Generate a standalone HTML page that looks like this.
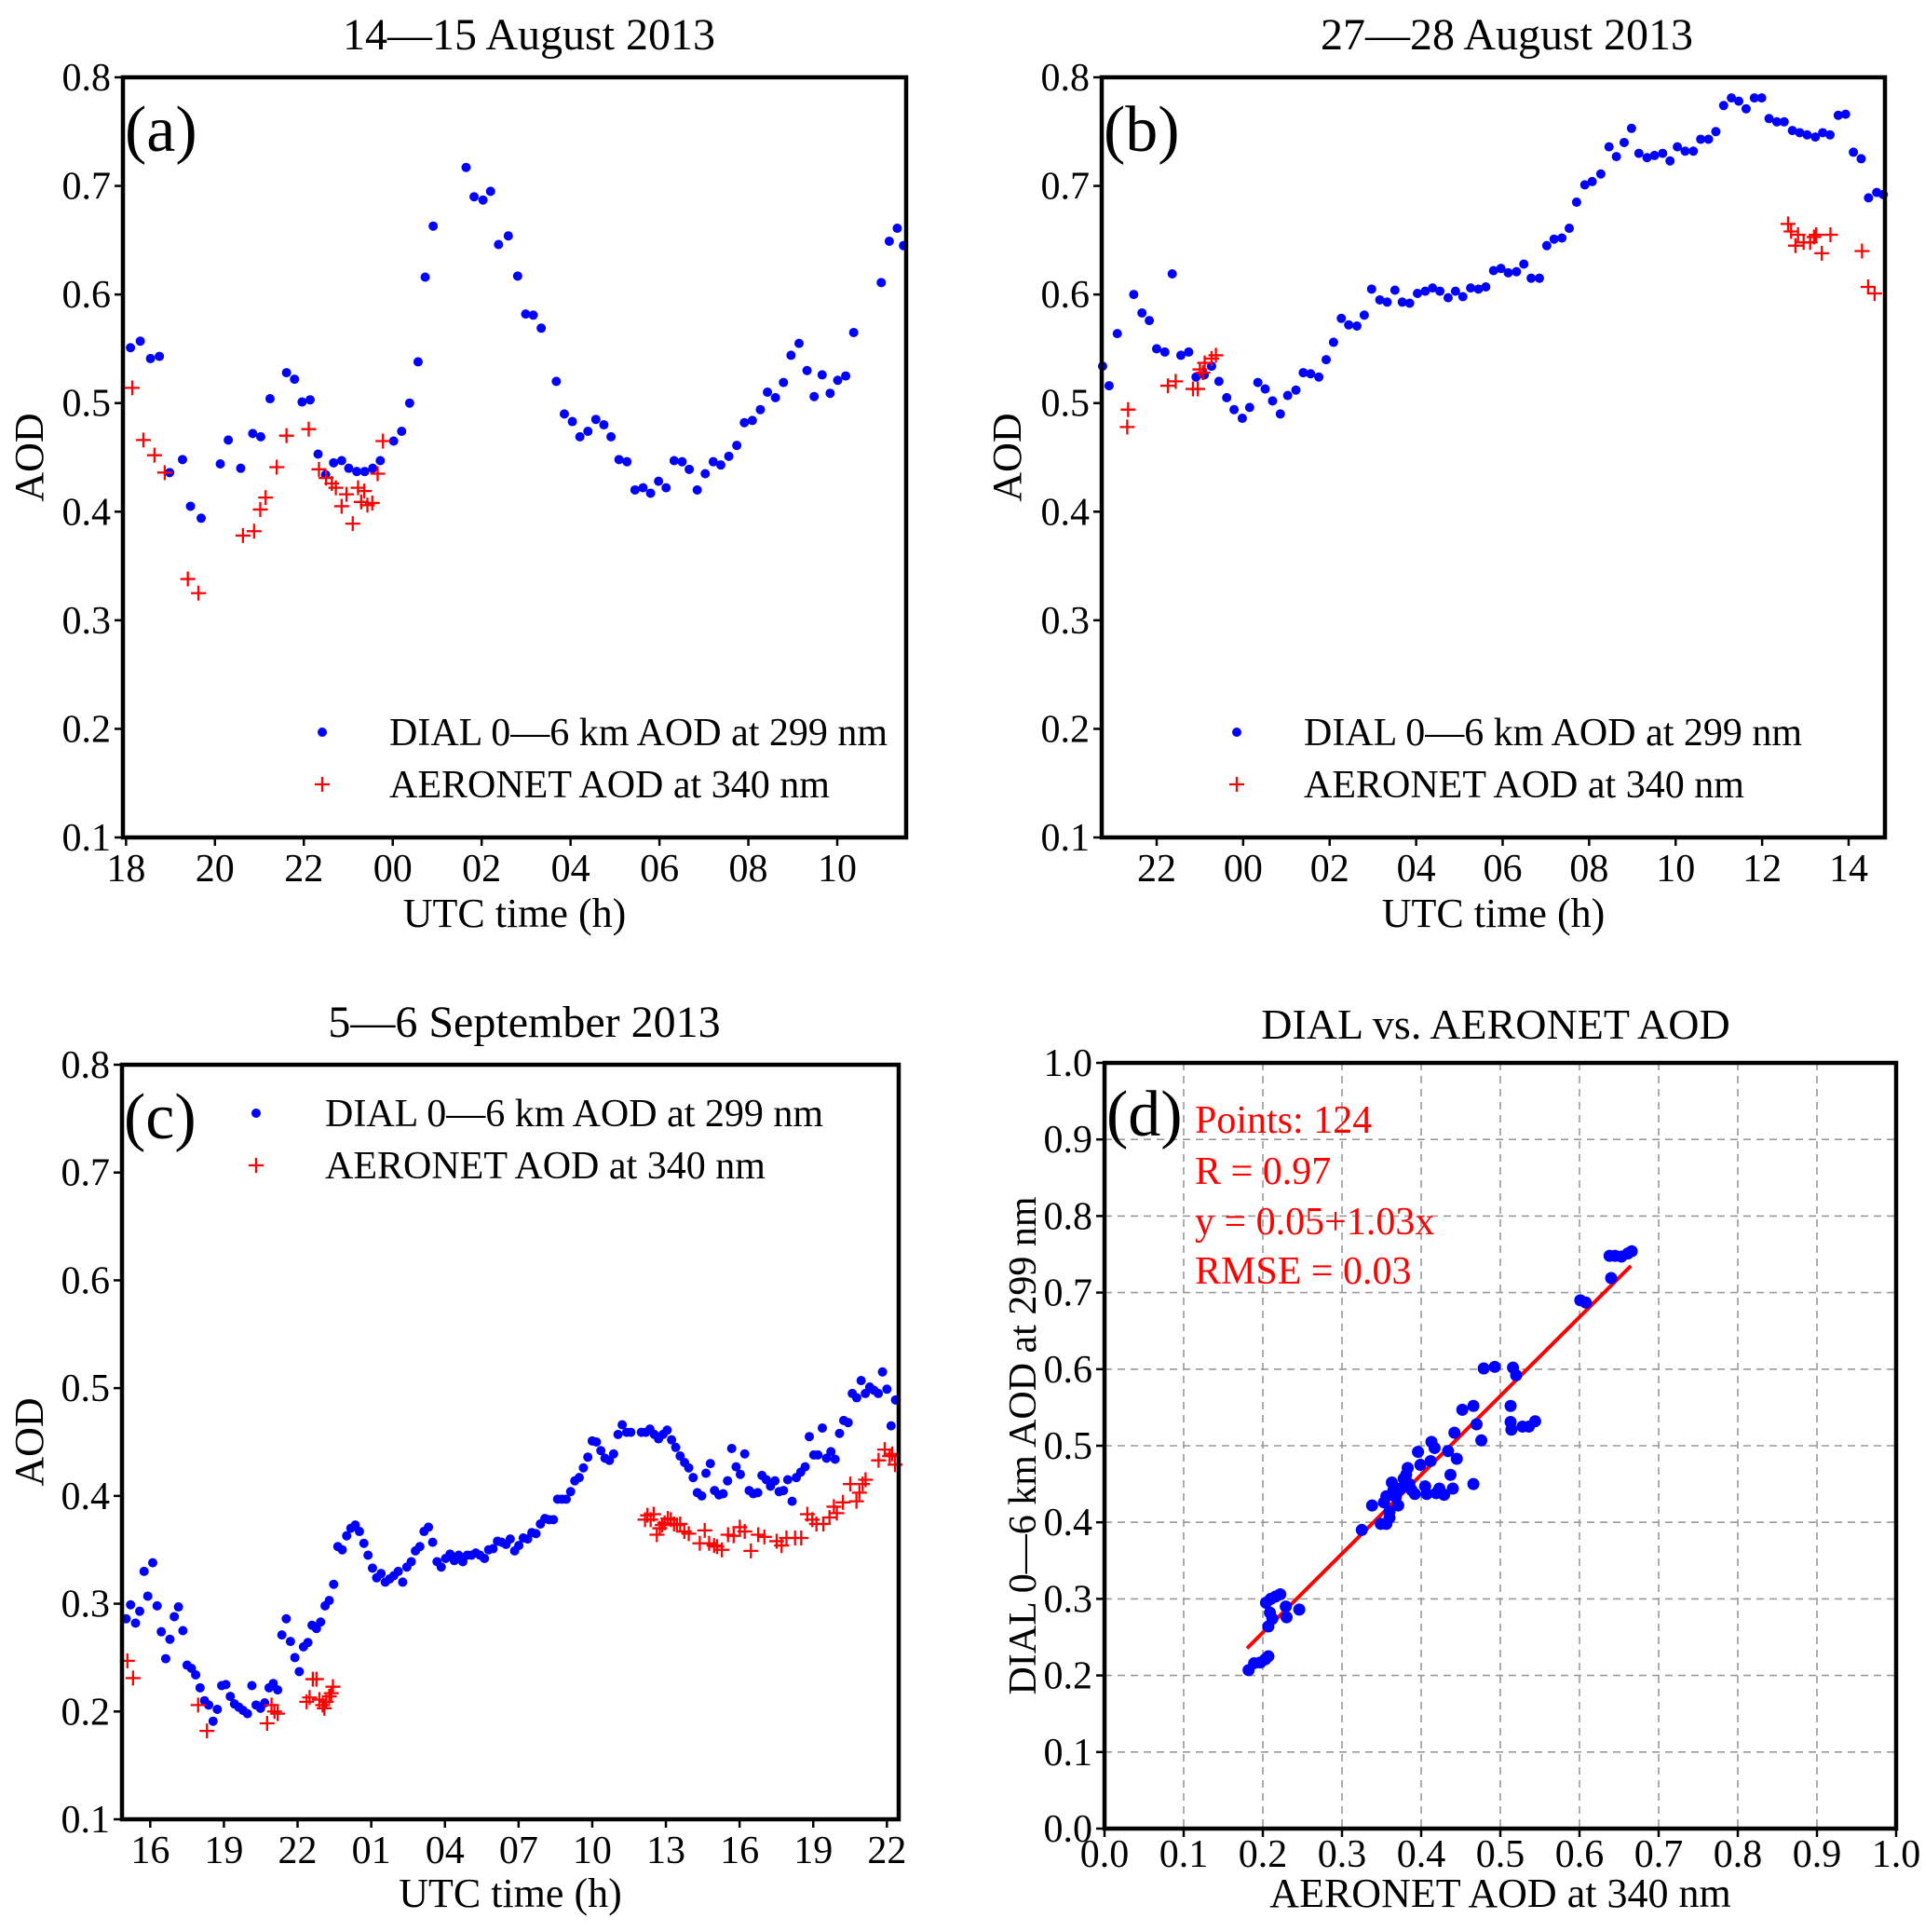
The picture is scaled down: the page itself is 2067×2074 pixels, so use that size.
<!DOCTYPE html>
<html><head><meta charset="utf-8"><style>
html,body{margin:0;padding:0;background:#fff;}
svg{display:block;font-family:"Liberation Serif",serif;}
</style></head><body>
<svg id="fig" width="2067" height="2074" viewBox="0 0 2067 2074" xmlns="http://www.w3.org/2000/svg"></svg>
<script>
// ---- Panel (a) data ----
const aDialH=[18.10,18.32,18.55,18.75,18.98,19.27,19.45,19.69,20.12,20.30,20.58,20.85,21.03,21.24,21.61,21.79,21.96,22.14,22.32,22.49,22.67,22.85,23.01,23.19,23.37,23.55,23.72,24.02,24.20,24.38,24.57,24.73,24.91,25.65,25.83,26.03,26.20,26.38,26.60,26.81,26.99,27.16,27.34,27.68,27.86,28.04,28.21,28.39,28.57,28.75,28.91,29.09,29.27,29.45,29.63,29.80,29.98,30.15,30.33,30.51,30.67,30.85,31.03,31.21,31.38,31.56,31.74,31.91,32.09,32.27,32.43,32.61,32.79,32.96,33.14,33.32,33.48,33.66,33.84,34.01,34.19,34.37,34.99,35.17,35.35,35.49];
const aDialV=[0.551,0.557,0.541,0.543,0.436,0.448,0.405,0.394,0.444,0.466,0.440,0.472,0.469,0.504,0.528,0.522,0.501,0.503,0.453,0.434,0.445,0.447,0.440,0.437,0.437,0.440,0.447,0.465,0.474,0.500,0.538,0.616,0.663,0.717,0.690,0.687,0.695,0.646,0.654,0.617,0.582,0.581,0.569,0.520,0.490,0.483,0.469,0.474,0.485,0.480,0.469,0.448,0.446,0.420,0.422,0.417,0.428,0.422,0.447,0.446,0.439,0.420,0.435,0.446,0.443,0.451,0.461,0.482,0.484,0.494,0.510,0.505,0.519,0.544,0.555,0.530,0.506,0.526,0.509,0.521,0.525,0.565,0.611,0.649,0.661,0.645];
const aAerH=[18.14,18.39,18.64,18.87,19.39,19.63,20.63,20.88,21.02,21.14,21.39,21.61,22.11,22.34,22.50,22.63,22.72,22.85,22.96,23.10,23.22,23.29,23.36,23.43,23.54,23.66,23.78];
const aAerV=[0.514,0.466,0.452,0.436,0.338,0.325,0.378,0.382,0.402,0.413,0.441,0.470,0.476,0.439,0.431,0.426,0.422,0.405,0.416,0.389,0.422,0.409,0.419,0.406,0.408,0.435,0.465];
const aTicks=[18,20,22,24,26,28,30,32,34];
const aTickLabels=["18","20","22","00","02","04","06","08","10"];
// ---- Panel (b) data ----
const bDialH=[20.75,20.90,21.09,21.47,21.66,21.83,22.00,22.19,22.36,22.56,22.74,22.91,23.10,23.27,23.44,23.62,23.79,23.98,24.15,24.34,24.51,24.68,24.86,25.03,25.22,25.39,25.56,25.75,25.92,26.09,26.27,26.44,26.63,26.80,26.97,27.16,27.33,27.51,27.68,27.85,28.03,28.21,28.38,28.55,28.74,28.91,29.08,29.26,29.44,29.61,29.79,29.96,30.13,30.32,30.49,30.66,30.85,31.02,31.19,31.37,31.54,31.71,31.90,32.07,32.27,32.46,32.63,32.81,32.98,33.15,33.34,33.51,33.70,33.87,34.04,34.22,34.41,34.58,34.76,34.93,35.11,35.29,35.46,35.63,35.82,35.99,36.16,36.34,36.51,36.70,36.87,37.04,37.23,37.40,37.57,37.76,37.93,38.11,38.29,38.46,38.65,38.80];
const bDialV=[0.534,0.516,0.564,0.600,0.583,0.576,0.550,0.547,0.619,0.544,0.547,0.524,0.526,0.534,0.520,0.505,0.494,0.486,0.496,0.519,0.513,0.502,0.490,0.507,0.512,0.528,0.527,0.524,0.540,0.556,0.578,0.572,0.571,0.581,0.605,0.595,0.593,0.604,0.593,0.592,0.601,0.603,0.606,0.603,0.597,0.603,0.598,0.606,0.605,0.607,0.622,0.624,0.620,0.621,0.628,0.615,0.615,0.645,0.651,0.652,0.661,0.685,0.701,0.704,0.711,0.736,0.727,0.740,0.753,0.730,0.726,0.728,0.730,0.723,0.736,0.732,0.732,0.743,0.743,0.750,0.774,0.781,0.778,0.771,0.781,0.781,0.762,0.759,0.759,0.751,0.749,0.747,0.745,0.749,0.747,0.765,0.766,0.731,0.725,0.689,0.694,0.692];
const bAerH=[21.32,21.34,22.26,22.44,22.84,22.95,23.00,23.07,23.11,23.27,23.37,36.60,36.67,36.77,36.83,36.96,37.11,37.20,37.25,37.38,37.58,38.31,38.45,38.60];
const bAerV=[0.478,0.494,0.516,0.520,0.513,0.513,0.531,0.528,0.537,0.541,0.544,0.665,0.658,0.645,0.655,0.648,0.648,0.653,0.655,0.638,0.655,0.640,0.607,0.601];
const bTicks=[22,24,26,28,30,32,34,36,38];
const bTickLabels=["22","00","02","04","06","08","10","12","14"];
// ---- Panel (c) data ----
const cDialH=[15.02,15.20,15.40,15.57,15.75,15.90,16.10,16.28,16.45,16.63,16.80,16.98,17.15,17.33,17.50,17.68,17.85,18.03,18.21,18.38,18.56,18.73,18.91,19.08,19.26,19.43,19.61,19.78,19.96,20.14,20.31,20.49,20.66,20.84,21.01,21.19,21.36,21.54,21.71,21.89,22.07,22.24,22.42,22.59,22.77,22.94,23.12,23.29,23.47,23.64,23.82,24.00,24.17,24.35,24.52,24.70,24.87,25.05,25.22,25.40,25.57,25.75,25.92,26.10,26.28,26.45,26.63,26.80,26.98,27.15,27.33,27.50,27.68,27.85,28.03,28.21,28.38,28.56,28.73,28.91,29.08,29.26,29.43,29.61,29.78,29.96,30.14,30.31,30.49,30.66,30.84,31.01,31.19,31.37,31.54,31.71,31.89,32.07,32.24,32.42,32.59,32.77,32.94,33.12,33.29,33.47,33.64,33.82,34.00,34.17,34.35,34.52,34.70,34.87,35.05,35.22,35.40,35.57,36.00,36.18,36.35,36.53,36.70,36.88,37.05,37.23,37.40,37.58,37.76,37.93,38.11,38.28,38.46,38.63,38.81,38.98,39.16,39.33,39.51,39.68,39.86,40.03,40.21,40.39,40.56,40.74,40.91,41.09,41.26,41.44,41.61,41.79,41.96,42.14,42.31,42.49,42.67,42.84,43.02,43.19,43.37,43.54,43.72,43.89,44.07,44.24,44.42,44.59,44.77,44.95,45.12,45.30,45.47,45.65,45.82,46.00,46.17,46.35];
const cDialV=[0.286,0.299,0.282,0.293,0.330,0.307,0.338,0.298,0.274,0.249,0.267,0.288,0.297,0.275,0.243,0.240,0.234,0.222,0.210,0.206,0.191,0.202,0.224,0.225,0.214,0.207,0.204,0.201,0.198,0.224,0.206,0.203,0.208,0.222,0.226,0.220,0.271,0.286,0.265,0.250,0.237,0.260,0.264,0.280,0.277,0.283,0.298,0.303,0.318,0.353,0.350,0.363,0.370,0.373,0.367,0.356,0.345,0.333,0.324,0.328,0.320,0.323,0.326,0.330,0.320,0.334,0.339,0.349,0.353,0.367,0.371,0.357,0.339,0.334,0.342,0.346,0.340,0.345,0.339,0.345,0.345,0.347,0.345,0.342,0.350,0.351,0.358,0.357,0.355,0.360,0.349,0.354,0.361,0.360,0.366,0.365,0.374,0.379,0.378,0.378,0.397,0.397,0.397,0.404,0.414,0.417,0.426,0.436,0.451,0.450,0.442,0.435,0.433,0.439,0.457,0.466,0.459,0.459,0.459,0.459,0.462,0.457,0.453,0.457,0.461,0.452,0.445,0.437,0.431,0.426,0.417,0.403,0.400,0.421,0.430,0.405,0.401,0.402,0.414,0.444,0.427,0.420,0.439,0.405,0.402,0.403,0.419,0.415,0.409,0.414,0.404,0.405,0.415,0.395,0.417,0.422,0.427,0.455,0.438,0.438,0.463,0.435,0.441,0.434,0.458,0.470,0.468,0.495,0.491,0.507,0.495,0.501,0.498,0.495,0.515,0.499,0.465,0.489];
const cAerH=[15.07,15.30,17.95,18.31,20.76,20.94,21.06,21.19,22.37,22.49,22.62,22.77,22.89,23.02,23.09,23.17,23.29,23.37,23.44,36.15,36.25,36.38,36.50,36.63,36.75,36.85,36.95,37.08,37.20,37.33,37.45,37.58,37.75,37.93,38.38,38.58,38.76,38.96,39.08,39.28,39.53,39.76,40.01,40.21,40.46,40.76,41.01,41.51,41.71,41.91,42.26,42.51,42.76,42.96,43.13,43.41,43.66,43.84,43.96,44.21,44.51,44.76,44.88,45.01,45.13,45.66,45.91,46.11,46.21,46.33];
const cAerV=[0.247,0.231,0.206,0.182,0.189,0.206,0.200,0.198,0.209,0.213,0.230,0.230,0.211,0.206,0.203,0.209,0.214,0.217,0.223,0.378,0.382,0.378,0.383,0.364,0.370,0.373,0.375,0.379,0.378,0.374,0.373,0.374,0.367,0.365,0.356,0.368,0.356,0.354,0.353,0.350,0.364,0.363,0.371,0.367,0.349,0.364,0.362,0.358,0.354,0.361,0.361,0.361,0.383,0.378,0.374,0.374,0.380,0.390,0.384,0.394,0.411,0.395,0.403,0.411,0.415,0.433,0.443,0.437,0.439,0.429];
const cTicks=[16,19,22,25,28,31,34,37,40,43,46];
const cTickLabels=["16","19","22","01","04","07","10","13","16","19","22"];
// ---- Panel (d) data ----
const dX=[0.182,0.189,0.197,0.203,0.207,0.204,0.210,0.216,0.222,0.209,0.207,0.212,0.229,0.230,0.246,0.325,0.338,0.349,0.356,0.360,0.353,0.356,0.360,0.363,0.365,0.368,0.371,0.374,0.378,0.381,0.383,0.385,0.388,0.392,0.396,0.399,0.405,0.407,0.412,0.413,0.417,0.419,0.423,0.429,0.434,0.437,0.440,0.442,0.445,0.452,0.466,0.470,0.476,0.466,0.479,0.493,0.513,0.513,0.514,0.516,0.520,0.528,0.536,0.544,0.601,0.608,0.640,0.638,0.645,0.653,0.661,0.666];
const dY=[0.207,0.216,0.217,0.221,0.225,0.295,0.300,0.303,0.306,0.282,0.264,0.274,0.290,0.276,0.286,0.390,0.422,0.398,0.398,0.406,0.426,0.434,0.414,0.452,0.442,0.433,0.422,0.444,0.457,0.462,0.471,0.450,0.442,0.437,0.492,0.475,0.447,0.437,0.480,0.505,0.497,0.438,0.444,0.436,0.493,0.462,0.444,0.517,0.483,0.547,0.552,0.528,0.507,0.450,0.601,0.603,0.552,0.531,0.521,0.602,0.592,0.525,0.525,0.532,0.690,0.687,0.719,0.748,0.748,0.747,0.751,0.754];
const fitRange=[0.18,0.665];
const fitCoef=[0.05,1.03];
const dTicks=[0,0.1,0.2,0.3,0.4,0.5,0.6,0.7,0.8,0.9,1.0];
const aodTicks=[0.1,0.2,0.3,0.4,0.5,0.6,0.7,0.8];

const NS="http://www.w3.org/2000/svg";
const svg=document.getElementById('fig');
function mk(tag,attrs,parent){const e=document.createElementNS(NS,tag);for(const k in attrs)e.setAttribute(k,attrs[k]);(parent||svg).appendChild(e);return e;}
function txt(s,attrs,parent){const e=mk('text',attrs,parent);e.textContent=s;return e;}

function panel(cfg){
  const g=mk('g',{});
  
  
  const L=cfg.L,R=cfg.R,T=cfg.T,B=cfg.B;
  const sx=v=>L+(v-cfg.x0)/(cfg.x1-cfg.x0)*(R-L);
  const sy=v=>B-(v-cfg.y0)/(cfg.y1-cfg.y0)*(B-T);
  if(cfg.grid){
    cfg.xt.forEach(v=>{const l=mk('line',{x1:sx(v),x2:sx(v),y1:T,y2:B,stroke:'#999','stroke-width':1.6,'stroke-dasharray':'8,6'},g);});
    cfg.yt.forEach(v=>{const l=mk('line',{x1:L,x2:R,y1:sy(v),y2:sy(v),stroke:'#999','stroke-width':1.6,'stroke-dasharray':'8,6'},g);});
  }
  cfg.xt.forEach((v,i)=>{
    mk('line',{x1:sx(v),x2:sx(v),y1:B,y2:B+9,stroke:'#000','stroke-width':2.5},g);
    const t=txt(cfg.xl[i],{x:sx(v),y:cfg.xtb,'text-anchor':'middle','font-size':42},g);
    
  });
  cfg.yt.forEach((v,i)=>{
    mk('line',{x1:L-9,x2:L,y1:sy(v),y2:sy(v),stroke:'#000','stroke-width':2.5},g);
    const t=txt(cfg.yl[i],{x:L-13,y:sy(v)+14,'text-anchor':'end','font-size':42},g);
    
  });
  if(cfg.fit){
    const l=mk('line',{x1:sx(fitRange[0]),y1:sy(fitCoef[0]+fitCoef[1]*fitRange[0]),x2:sx(fitRange[1]),y2:sy(fitCoef[0]+fitCoef[1]*fitRange[1]),stroke:'#f00','stroke-width':4},g);
    
  }
  (cfg.dots||[]).forEach(s=>{
    s.h.forEach((h,i)=>{
      if(h<cfg.x0||h>cfg.x1)return;
      const c=mk('circle',{cx:sx(h),cy:sy(s.v[i]),r:s.r,fill:'#00f'},g);
      
      
    });
  });
  (cfg.plus||[]).forEach(s=>{
    s.h.forEach((h,i)=>{
      if(h<cfg.x0||h>cfg.x1)return;
      const x=sx(h),y=sy(s.v[i]);
      const p=mk('path',{d:`M${x-8},${y}H${x+8}M${x},${y-8}V${y+8}`,stroke:'#f00','stroke-width':2.3,fill:'none'},g);
      
      
    });
  });
  const fr=mk('rect',{x:L,y:T,width:R-L,height:B-T,fill:'none',stroke:'#000','stroke-width':4.5},g);
  
  const ti=txt(cfg.title,{x:cfg.tx,y:cfg.ty,'text-anchor':'middle','font-size':cfg.tfs||48},g);
  
  const xl=txt(cfg.xlabel,{x:(L+R)/2,y:cfg.xlb,'text-anchor':'middle','font-size':44},g);
  
  const yl=txt(cfg.ylabel,{x:0,y:0,'text-anchor':'middle','font-size':cfg.ylfs||44,transform:`translate(${cfg.ylx},${(T+B)/2}) rotate(-90)`},g);
  
  const pl=txt(cfg.plabel,{x:L+2,y:cfg.ply,'font-size':70},g);
  
  if(cfg.leg){
    const lg=mk('g',{},g);
    
    const [mx,my1,my2,tx]=cfg.leg;
    mk('circle',{cx:mx,cy:my1,r:5,fill:'#00f'},lg);
    mk('path',{d:`M${mx-8},${my2}H${mx+8}M${mx},${my2-8}V${my2+8}`,stroke:'#f00','stroke-width':2.3},lg);
    const t1=txt('DIAL 0—6 km AOD at 299 nm',{x:tx,y:my1+14,'font-size':42},lg);
    
    const t2=txt('AERONET AOD at 340 nm',{x:tx,y:my2+14,'font-size':42},lg);
    
  }
  return {g,sx,sy};
}
const yl=aodTicks.map(v=>v.toFixed(1));
panel({name:'panel-a',L:132,R:973,T:83,B:899,x0:17.93,x1:35.55,y0:0.1,y1:0.8,xt:aTicks,xl:aTickLabels,yt:aodTicks,yl:yl,xtb:946,
  title:'14—15 August 2013',tx:568,ty:53,xlabel:'UTC time (h)',xlb:995,ylabel:'AOD',ylx:46,plabel:'(a)',ply:162,
  dots:[{h:aDialH,v:aDialV,r:5}],plus:[{h:aAerH,v:aAerV}],leg:[346,786,842,418]});
panel({name:'panel-b',L:1183,R:2024,T:83,B:899,x0:20.73,x1:38.84,y0:0.1,y1:0.8,xt:bTicks,xl:bTickLabels,yt:aodTicks,yl:yl,xtb:946,
  title:'27—28 August 2013',tx:1618,ty:53,xlabel:'UTC time (h)',xlb:995,ylabel:'AOD',ylx:1096,plabel:'(b)',ply:162,
  dots:[{h:bDialH,v:bDialV,r:5}],plus:[{h:bAerH,v:bAerV}],leg:[1328,786,842,1400]});
panel({name:'panel-c',L:131,R:965,T:1143,B:1953,x0:14.85,x1:46.48,y0:0.1,y1:0.8,xt:cTicks,xl:cTickLabels,yt:aodTicks,yl:yl,xtb:2000,
  title:'5—6 September 2013',tx:563,ty:1113,xlabel:'UTC time (h)',xlb:2047,ylabel:'AOD',ylx:46,plabel:'(c)',ply:1222,
  dots:[{h:cDialH,v:cDialV,r:5}],plus:[{h:cAerH,v:cAerV}],leg:[275,1195,1251,349]});
const d=panel({name:'panel-d',L:1186,R:2036,T:1141,B:1963,x0:0,x1:1,y0:0,y1:1,xt:dTicks,xl:dTicks.map(v=>v.toFixed(1)),yt:dTicks,yl:dTicks.map(v=>v.toFixed(1)),xtb:2004,
  title:'DIAL vs. AERONET AOD',tx:1606,ty:1115,tfs:46,xlabel:'AERONET AOD at 340 nm',xlb:2047,ylabel:'DIAL 0—6 km AOD at 299 nm',ylfs:42,ylx:1112,plabel:'(d)',ply:1219,grid:true,fit:true,
  dots:[{h:dX,v:dY,r:6.5}]});
const ann=['Points: 124','R = 0.97','y = 0.05+1.03x','RMSE = 0.03'];
const annY=[1216,1271,1325,1378];
ann.forEach((s,i)=>{
  const t=txt(s,{x:1283,y:annY[i],'font-size':42,fill:'#f00'},d.g);
  
  
});
</script>
</body></html>
